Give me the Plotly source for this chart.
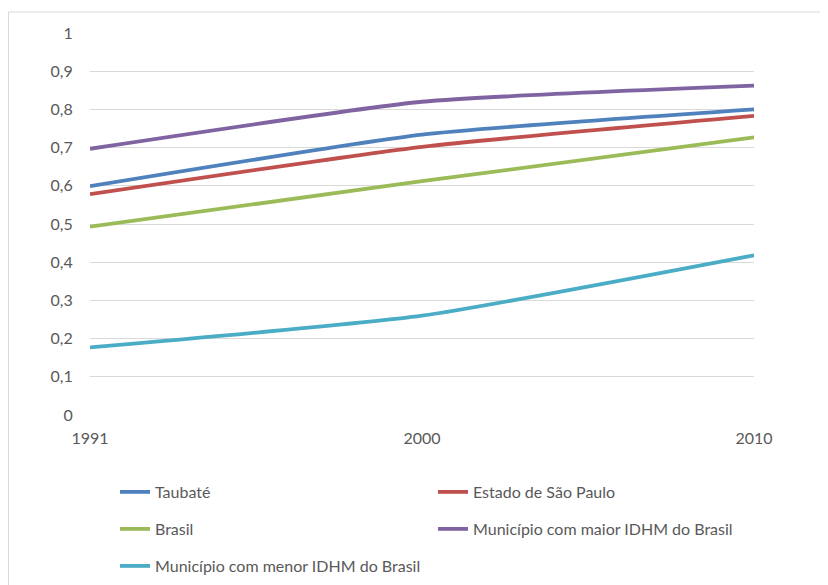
import plotly.graph_objects as go

years = ["1991", "2000", "2010"]
taubate = [0.599, 0.734, 0.800]
estado_sp = [0.578, 0.702, 0.783]
brasil = [0.493, 0.612, 0.727]
mun_maior = [0.697, 0.820, 0.862]
mun_menor = [0.177, 0.260, 0.418]

series = [
    ("Taubaté", taubate, "#4F81BD", "legend"),
    ("Estado de São Paulo", estado_sp, "#C0504D", "legend"),
    ("Brasil", brasil, "#9BBB59", "legend2"),
    ("Município com maior IDHM do Brasil", mun_maior, "#8064A2", "legend2"),
    ("Município com menor IDHM do Brasil", mun_menor, "#4BACC6", "legend3"),
]

FONT = "Lato"
FS = 16
fig = go.Figure()
for name, vals, color, lg in series:
    fig.add_trace(go.Scatter(
        x=years, y=vals, name=name, mode="lines",
        line=dict(color=color, width=3.8, shape="spline", smoothing=0.5),
        legend=lg,
    ))

# page body has an 8px margin: work in window pixels, convert to figure pixels
OFF = 8
W, H = 828 - OFF, 585 - OFF
L, R, T, B = 90 - OFF, 828 - 754, 33 - OFF, 585 - 415
pw, ph = W - L - R, H - T - B

def py(pix):
    return (H - B - (pix - OFF)) / ph

def px(pix):
    return ((pix - OFF) - L) / pw

leg_common = dict(orientation="h", entrywidth=273, entrywidthmode="pixels",
                  x=px(115), xanchor="left", yanchor="middle",
                  font=dict(family=FONT, size=FS, color="#595959"),
                  bgcolor="rgba(0,0,0,0)", itemwidth=30)

fig.update_layout(
    width=W, height=H,
    margin=dict(l=L, r=R, t=T, b=B, autoexpand=False),
    paper_bgcolor="white", plot_bgcolor="white",
    separators=",.",
    font=dict(family=FONT, size=FS, color="#595959"),
    xaxis=dict(type="category", range=[0, 2], showgrid=False, showline=False,
               zeroline=False, ticks="outside", ticklen=9, tickcolor="rgba(0,0,0,0)",
               tickfont=dict(family=FONT, size=FS, color="#595959")),
    yaxis=dict(range=[0, 1], dtick=0.1, showgrid=True, gridcolor="#D9D9D9", gridwidth=1,
               showline=False, zeroline=False, ticks="outside", ticklen=13,
               tickcolor="rgba(0,0,0,0)",
               tickfont=dict(family=FONT, size=FS, color="#595959")),
    legend=dict(y=py(492), **leg_common),
    legend2=dict(y=py(529), **leg_common),
    legend3=dict(y=py(566), **leg_common),
    showlegend=True,
    shapes=[dict(type="rect", xref="paper", yref="paper",
                 x0=px(8.5), x1=px(900), y0=py(12), y1=py(700),
                 line=dict(color="#D9D9D9", width=1), fillcolor="rgba(0,0,0,0)",
                 layer="below")],
)

fig.write_html("out.html")
